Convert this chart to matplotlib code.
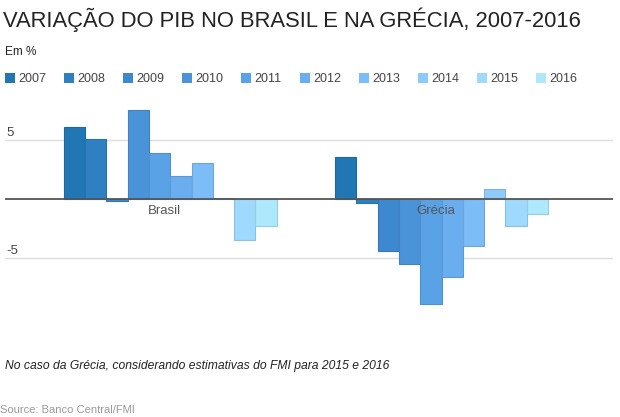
import matplotlib
matplotlib.use("Agg")
import matplotlib.pyplot as plt
from matplotlib.patches import Rectangle
from matplotlib.colors import to_rgb
import numpy as np

years = ["2007", "2008", "2009", "2010", "2011", "2012", "2013", "2014", "2015", "2016"]
countries = ["Brasil", "Grécia"]
brasil = [6.1, 5.1, -0.2, 7.5, 3.9, 1.9, 3.0, 0.1, -3.5, -2.3]
grecia = [3.5, -0.4, -4.4, -5.5, -8.9, -6.6, -4.0, 0.8, -2.3, -1.3]
colors = ["#2176b4", "#2f80c1", "#3d88cf", "#4a93d9", "#5aa2e6",
          "#6aaef0", "#7cbcf7", "#8ecbfb", "#9fd9fd", "#ade8fd"]
yticks = [5, -5]

W, H = 620, 417
fig = plt.figure(figsize=(W / 100, H / 100), dpi=100)
font = "Liberation Sans"

ax = fig.add_axes([5 / W, 1 - 316.7 / H, 608 / W, (316.7 - 104.3) / H])
ax.set_xlim(-0.609, 1.632)
ax.set_ylim(-10, 8)
ax.axis("off")

for t in yticks:
    ax.axhline(t, color="#dddddd", lw=1, zorder=0)
    ax.annotate(str(t), xy=(0.003, t), xycoords=("axes fraction", "data"),
                xytext=(0, 3), textcoords="offset points", ha="left", va="baseline",
                fontsize=9.5, color="#444444", family=font)

w = 0.0785
data = [brasil, grecia]
for i, yr in enumerate(years):
    vals = [d[i] for d in data]
    xs = np.arange(len(countries)) + (i - 4.5) * w
    edge = tuple(c * 0.88 for c in to_rgb(colors[i]))
    ax.bar(xs, vals, width=w, color=colors[i], edgecolor=edge, linewidth=0.8, zorder=2)

ax.axhline(0, color="#555555", lw=1.3, zorder=3)

for j, c in enumerate(countries):
    ax.annotate(c, xy=(j - 0.022, 0), xycoords="data", xytext=(0, -9),
                textcoords="offset points", ha="center", va="center",
                fontsize=9.5, color="#555555", family=font, zorder=4)

# Title and subtitle
fig.text(3 / W, 1 - 27.3 / H, "VARIAÇÃO DO PIB NO BRASIL E NA GRÉCIA, 2007-2016",
         ha="left", va="baseline", fontsize=15.8, color="#222222", family=font)
fig.text(5 / W, 1 - 55 / H, "Em %", ha="left", va="baseline", fontsize=8.5,
         color="#222222", family=font)

# Legend
for i, yr in enumerate(years):
    x0 = 5 + 59 * i
    fig.patches.append(Rectangle((x0 / W, 1 - 82.5 / H), 10 / W, 10 / H,
                                 transform=fig.transFigure, facecolor=colors[i],
                                 edgecolor="none"))
    fig.text((x0 + 13.5) / W, 1 - 82 / H, yr, ha="left", va="baseline",
             fontsize=9, color="#444444", family=font)

fig.text(5 / W, 1 - 369 / H,
         "No caso da Grécia, considerando estimativas do FMI para 2015 e 2016",
         ha="left", va="baseline", fontsize=8.75, style="italic", color="#222222",
         family=font)
fig.text(0 / W, 1 - 413 / H, "Source: Banco Central/FMI", ha="left", va="baseline",
         fontsize=8, color="#999999", family=font)

fig.savefig("out.png", dpi=100, facecolor="white")
